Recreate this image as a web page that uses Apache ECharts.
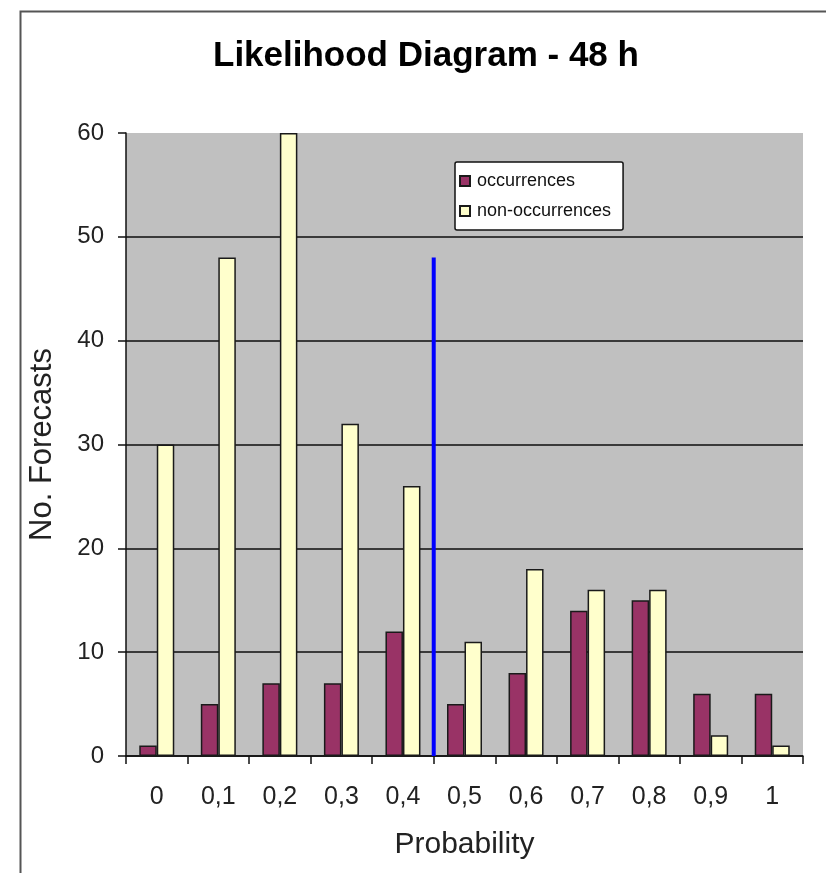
<!DOCTYPE html>
<html>
<head>
<meta charset="utf-8">
<title>Likelihood Diagram - 48 h</title>
<script src="https://cdn.jsdelivr.net/npm/echarts@6/dist/echarts.min.js"></script>
<style>
  html, body { margin: 0; padding: 0; background: #ffffff; }
  #chart { width: 826px; height: 873px; }
</style>
</head>
<body>
<div id="chart"></div>
<script>
// Forecast probability classes (x axis)
const categories = ['0', '0,1', '0,2', '0,3', '0,4', '0,5', '0,6', '0,7', '0,8', '0,9', '1'];
// Number of forecasts per class when the event occurred / did not occur
const occurrences = [1, 5, 7, 7, 12, 5, 8, 14, 15, 6, 6];
const nonOccurrences = [30, 48, 60, 32, 26, 11, 18, 16, 16, 2, 1];
// Y axis range and step
const yMin = 0;
const yMax = 60;
const yStep = 10;
// Decision threshold drawn between the 0,4 and 0,5 classes
const thresholdX = [4.5, 4.5];
const thresholdY = [0, 48];

const FONT = '"Liberation Sans", Arial, sans-serif';
const chart = echarts.init(document.getElementById('chart'), null, { renderer: 'canvas' });

const option = {
  backgroundColor: '#ffffff',
  animation: false,
  graphic: [{
    type: 'rect',
    left: 18, top: 9, z: -10,
    shape: { width: 807, height: 900 },
    style: { fill: 'none', stroke: '#555555', lineWidth: 2 }
  }],
  title: {
    text: 'Likelihood Diagram - 48 h',
    left: 213,
    top: 39,
    padding: 0,
    textStyle: { fontFamily: FONT, fontSize: 35, fontWeight: 'bold', color: '#000000' }
  },
  legend: {
    data: ['occurrences', 'non-occurrences'],
    orient: 'vertical',
    left: 455,
    top: 162,
    z: 10,
    padding: [10, 12, 10, 4],
    itemGap: 12,
    itemWidth: 10,
    itemHeight: 10,
    icon: 'rect',
    backgroundColor: '#ffffff',
    borderColor: '#111111',
    borderWidth: 1.5,
    borderRadius: 2,
    textStyle: { fontFamily: FONT, fontSize: 18, color: '#111111', padding: [0, 0, 0, 2] }
  },
  grid: {
    left: 126, right: 23, top: 133, bottom: 117,
    show: true,
    backgroundColor: '#c0c0c0',
    borderWidth: 0
  },
  xAxis: [{
    type: 'category',
    data: categories,
    boundaryGap: true,
    name: 'Probability',
    nameLocation: 'middle',
    nameGap: 74,
    nameTextStyle: { fontFamily: FONT, fontSize: 30, color: '#222222' },
    axisLine: { show: true, onZero: false, lineStyle: { color: '#111111', width: 1.5 } },
    axisTick: { show: true, alignWithLabel: false, length: 8, lineStyle: { color: '#111111', width: 1.5 } },
    axisLabel: { fontFamily: FONT, fontSize: 25, color: '#222222', margin: 29 },
    splitLine: { show: false }
  }, {
    type: 'value',
    min: -0.5,
    max: 10.5,
    show: false
  }],
  yAxis: {
    type: 'value',
    min: yMin,
    max: yMax,
    interval: yStep,
    name: 'No. Forecasts',
    nameLocation: 'middle',
    nameGap: 68,
    nameRotate: 90,
    nameTextStyle: { fontFamily: FONT, fontSize: 31, color: '#222222' },
    axisLine: { show: true, onZero: false, lineStyle: { color: '#111111', width: 1.5 } },
    axisTick: { show: true, length: 8, lineStyle: { color: '#111111', width: 1.5 } },
    axisLabel: { fontFamily: FONT, fontSize: 24, color: '#222222', margin: 22 },
    splitLine: {
      show: true,
      showMaxLine: false,
      lineStyle: { color: '#3a3a3a', width: 2 }
    }
  },
  series: [{
    name: 'occurrences',
    type: 'bar',
    data: occurrences,
    barWidth: 17.5,
    barGap: '0%',
    itemStyle: { color: '#993366', borderColor: '#1a1a1a', borderWidth: 1.5 }
  }, {
    name: 'non-occurrences',
    type: 'bar',
    data: nonOccurrences,
    barWidth: 17.5,
    itemStyle: { color: '#ffffcc', borderColor: '#1a1a1a', borderWidth: 1.5 }
  }, {
    name: 'threshold',
    type: 'line',
    xAxisIndex: 1,
    data: thresholdX.map((x, i) => [x, thresholdY[i]]),
    symbol: 'none',
    z: 5,
    lineStyle: { color: '#0000ff', width: 4 }
  }]
};

chart.setOption(option);
</script>
</body>
</html>
